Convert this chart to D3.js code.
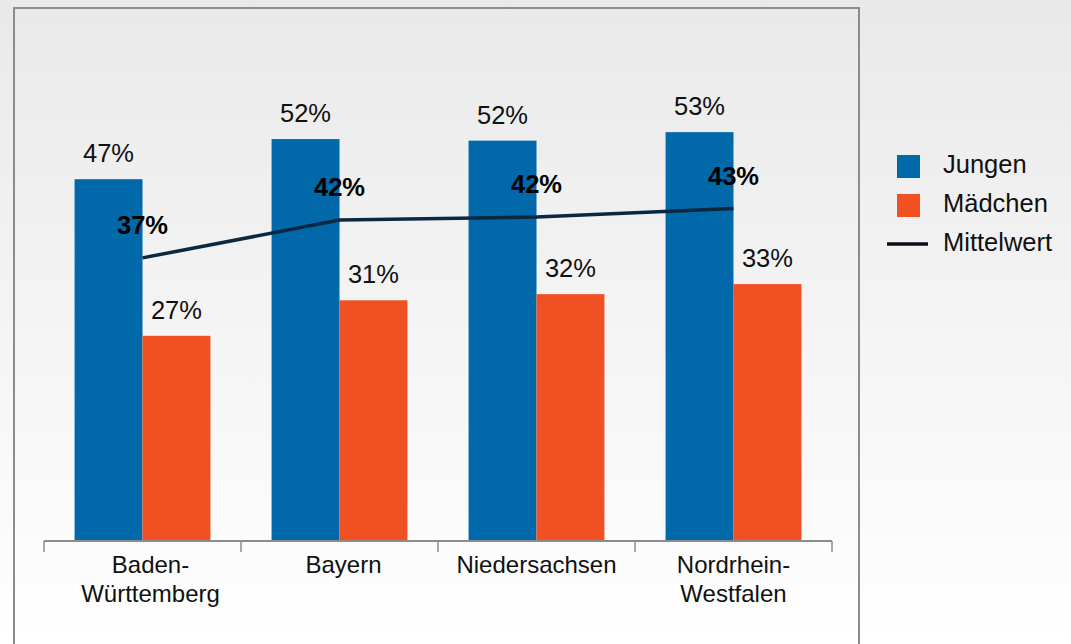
<!DOCTYPE html>
<html><head><meta charset="utf-8">
<script src="https://cdn.jsdelivr.net/npm/d3@7"></script>
<style>html,body{margin:0;padding:0;overflow:hidden}svg{display:block}</style>
</head><body>
<script>
const categories = [["Baden-","Württemberg"],["Bayern"],["Niedersachsen"],["Nordrhein-","Westfalen"]];
const jungen = [46.9, 52.1, 51.9, 53.0];
const maedchen = [26.6, 31.2, 32.0, 33.3];
const mittelwert = [36.7, 41.6, 42.0, 43.1];
const seriesNames = ["Jungen", "Mädchen", "Mittelwert"];
const colors = {Jungen:"#0169aa", Maedchen:"#f15023", Mittel:"#0c2840"};

const W = 1071, H = 644;
const svg = d3.select("body").append("svg").attr("width", W).attr("height", H);
const defs = svg.append("defs");
const g = defs.append("linearGradient").attr("id","bg").attr("x1",0).attr("y1",0).attr("x2",0).attr("y2",1);
g.append("stop").attr("offset","0%").attr("stop-color","#e9e9e9");
g.append("stop").attr("offset","100%").attr("stop-color","#ffffff");
svg.append("rect").attr("width",W).attr("height",H).attr("fill","url(#bg)");

// frame
svg.append("rect").attr("x",14).attr("y",8).attr("width",845).attr("height",H+20)
  .attr("fill","none").attr("stroke","#8c8c8c").attr("stroke-width",2);

const x0 = d3.scaleBand().domain(d3.range(categories.length)).range([44, 832]).paddingInner(0).paddingOuter(0);
const x1 = d3.scaleBand().domain([0,1]).range([0, x0.bandwidth()]).paddingOuter(0.45).paddingInner(0);
const y = d3.scaleLinear().domain([0, 70]).range([541, 1]);

const font = "'Liberation Sans', Arial, Helvetica, sans-serif";
const fmt = v => Math.round(v) + "%";

// bars
const groups = svg.append("g").selectAll("g").data(d3.range(categories.length)).join("g")
  .attr("transform", i => `translate(${x0(i)},0)`);
groups.append("rect").attr("x", x1(0)).attr("y", i => y(jungen[i])).attr("width", x1.bandwidth())
  .attr("height", i => y(0) - y(jungen[i])).attr("fill", colors.Jungen);
groups.append("rect").attr("x", x1(1)).attr("y", i => y(maedchen[i])).attr("width", x1.bandwidth())
  .attr("height", i => y(0) - y(maedchen[i])).attr("fill", colors.Maedchen);
groups.append("text").attr("x", x1(0) + x1.bandwidth()/2).attr("y", i => y(jungen[i]) - 17)
  .attr("text-anchor","middle").attr("font-family",font).attr("font-size",25.5).attr("fill","#111")
  .text(i => fmt(jungen[i]));
groups.append("text").attr("x", x1(1) + x1.bandwidth()/2).attr("y", i => y(maedchen[i]) - 17)
  .attr("text-anchor","middle").attr("font-family",font).attr("font-size",25.5).attr("fill","#111")
  .text(i => fmt(maedchen[i]));

// axis
const ag = svg.append("g").attr("transform","translate(0,541)");
ag.append("line").attr("x1",44).attr("x2",832).attr("y1",0).attr("y2",0).attr("stroke","#8c8c8c").attr("stroke-width",2);
const tickPos = d3.range(categories.length + 1).map(i => i < categories.length ? x0(i) : x0(categories.length-1) + x0.bandwidth());
ag.selectAll("line.tick").data(tickPos).join("line").attr("class","tick")
  .attr("x1", d => d).attr("x2", d => d).attr("y1", 0).attr("y2", 11)
  .attr("stroke","#8c8c8c").attr("stroke-width",1.5);
const cx = i => x0(i) + x0.bandwidth()/2 + (i===0?8:(i===1?4:0));
const cl = svg.append("g").selectAll("text").data(d3.range(categories.length)).join("text")
  .attr("x", cx).attr("y", 573)
  .attr("text-anchor","middle").attr("font-family",font).attr("font-size",24).attr("fill","#111");
cl.each(function(i){
  const t = d3.select(this);
  categories[i].forEach((s, k) => t.append("tspan").attr("x", cx(i)).attr("dy", k===0?0:29).text(s));
});

// line
const lx = i => x0(i) + x0.bandwidth()/2;
const line = d3.line().x((d,i) => lx(i)).y(d => y(d));
svg.append("path").datum(mittelwert).attr("d", line).attr("fill","none")
  .attr("stroke", colors.Mittel).attr("stroke-width",3.5);
svg.append("g").selectAll("text").data(mittelwert).join("text")
  .attr("x", (d,i) => lx(i)).attr("y", d => y(d) - 24).attr("text-anchor","middle")
  .attr("font-family",font).attr("font-size",25.5).attr("font-weight","bold").attr("fill","#000")
  .text(fmt);

// legend
const lg = svg.append("g").attr("font-family",font).attr("font-size",25.5).attr("fill","#111");
lg.append("rect").attr("x",897).attr("y",155).attr("width",23).attr("height",23).attr("fill",colors.Jungen);
lg.append("text").attr("x",943).attr("y",173).text(seriesNames[0]);
lg.append("rect").attr("x",897).attr("y",194).attr("width",23).attr("height",23).attr("fill",colors.Maedchen);
lg.append("text").attr("x",943).attr("y",212).text(seriesNames[1]);
lg.append("line").attr("x1",887).attr("x2",928).attr("y1",244).attr("y2",244).attr("stroke","#0a0f18").attr("stroke-width",3.5);
lg.append("text").attr("x",943).attr("y",251).text(seriesNames[2]);
</script>
</body></html>
